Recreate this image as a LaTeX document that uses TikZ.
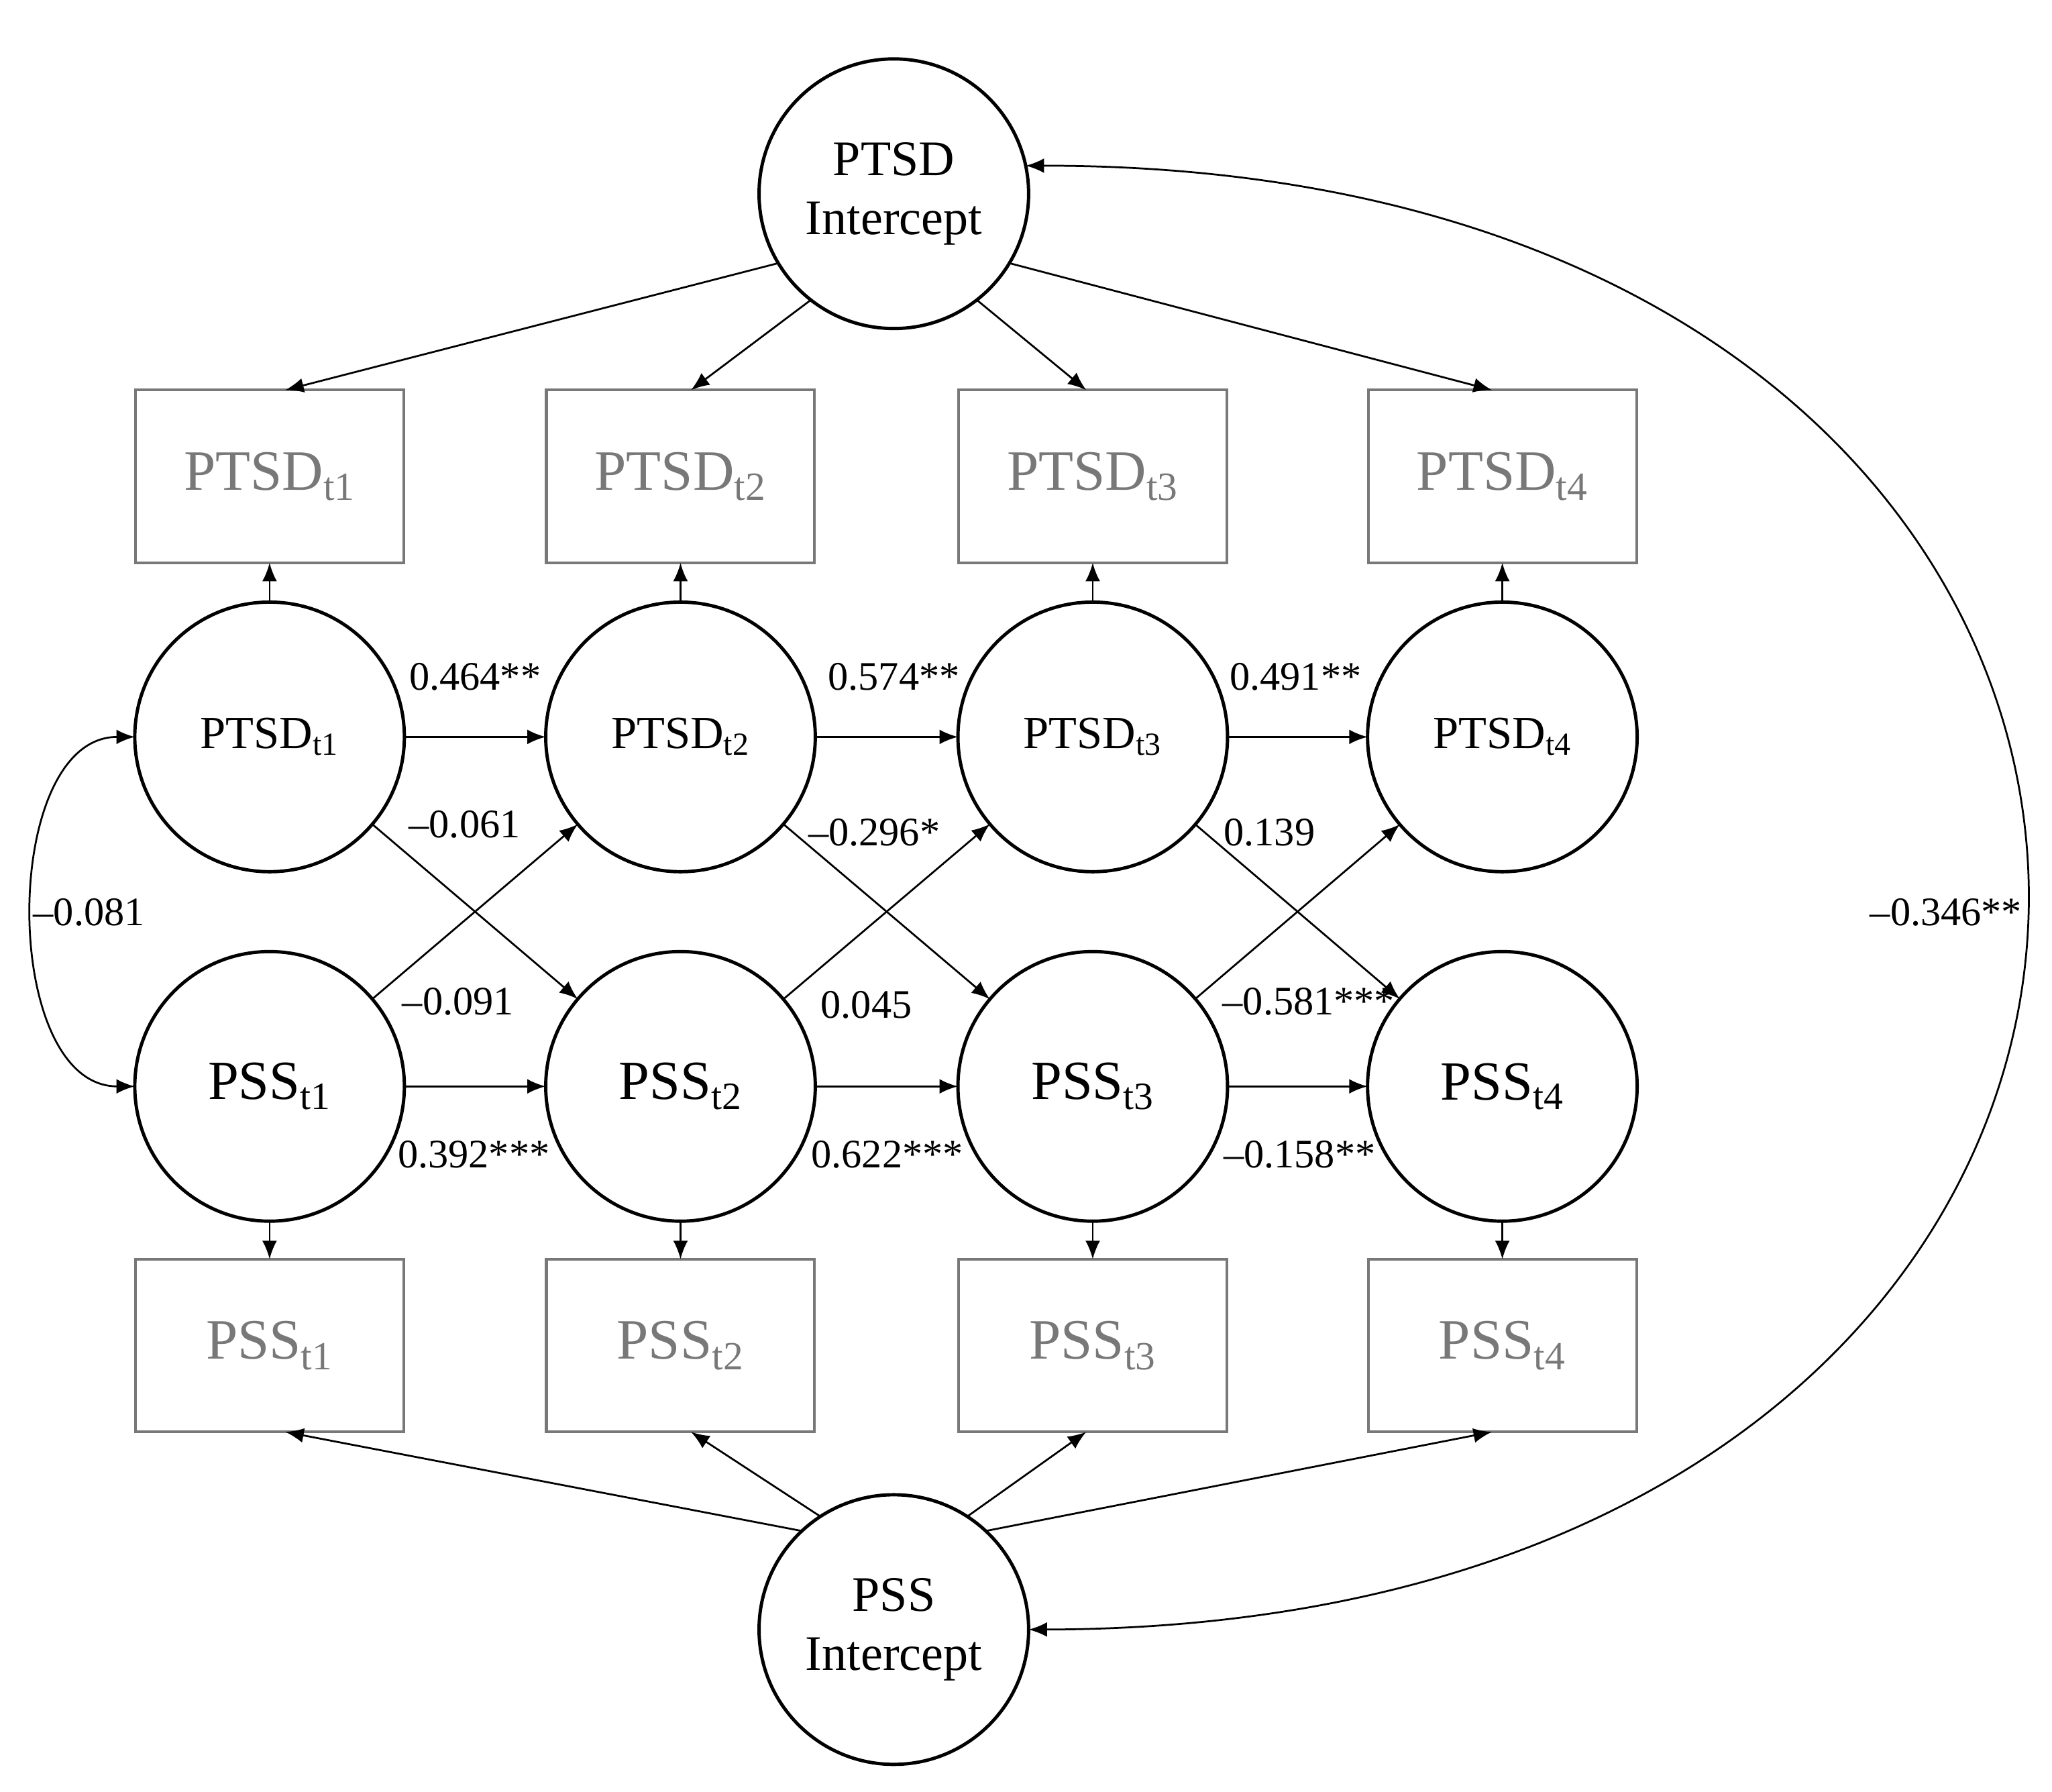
\documentclass[tikz,border=0pt]{standalone}
\usepackage{fontspec}
\setmainfont{Liberation Serif}
\usetikzlibrary{arrows.meta}
\definecolor{boxgray}{RGB}{120,120,120}
\begin{document}
\begin{tikzpicture}[x=0.025cm, y=-0.025cm]
\tikzset{ >={Latex[length=10pt,width=8pt]}, inner sep=0pt, outer sep=0pt,
  lat/.style={draw, circle, line width=1.8pt, minimum size=206*0.025cm, align=center},
  obs/.style={draw=boxgray, text=boxgray, line width=1.5pt, minimum width=205*0.025cm,
              minimum height=132*0.025cm, font=\fontsize{31}{31}\selectfont},
  path/.style={->, line width=1pt},
  coef/.style={font=\fontsize{22}{22}\selectfont},
}
\useasboundingbox (0,0) rectangle (1568,1369);

% intercepts
\node [lat, font=\fontsize{27}{32}\selectfont] (TI) at (683,148) {PTSD\\Intercept};
\node [lat, font=\fontsize{27}{32}\selectfont] (SI) at (683,1245) {PSS\\Intercept};

% latent and observed per wave
\foreach \i/\x/\a/\b/\dx in {1/206/-149/133/12,2/520/-128/123/8,3/835/-52/57/-5,4/1148/-31/47/-8} {
  \node [obs] (BT\i) at (\x,364)  {PTSD\textsubscript{t\i}};
  \node [lat, font=\fontsize{25}{25}\selectfont] (T\i) at (\x,563) {PTSD\textsubscript{t\i}};
  \node [lat, font=\fontsize{30}{30}\selectfont] (S\i) at (\x,830) {PSS\textsubscript{t\i}};
  \node [obs] (BS\i) at (\x,1028) {PSS\textsubscript{t\i}};
  \draw [path] (TI.\a) -- ([xshift=\dx*0.025cm]BT\i.north);
  \draw [path] (SI.\b) -- ([xshift=\dx*0.025cm]BS\i.south);
  \draw [path] (T\i) -- (BT\i);
  \draw [path] (S\i) -- (BS\i);
}

% autoregressive and cross-lagged paths
\foreach \i/\j in {1/2,2/3,3/4} {
  \draw [path] (T\i) -- (T\j);
  \draw [path] (S\i) -- (S\j);
  \draw [path] (T\i) -- (S\j);
  \draw [path] (S\i) -- (T\j);
}

% covariances
\draw [<->, line width=1pt] (T1.west) .. controls (0,563) and (0,830) .. (S1.west);
\draw [<->, line width=1pt] (TI.12) .. controls (1801,126) and (1801,1243) .. (SI.east);

\node [coef] at (68,697) {–0.081};
\node [coef, fill=white, inner sep=2pt] at (1487,697) {–0.346**};

\node [coef] at (363,517) {0.464**};
\node [coef] at (683,517) {0.574**};
\node [coef] at (990,517) {0.491**};
\node [coef] at (355,630) {–0.061};
\node [coef] at (668,636) {–0.296*};
\node [coef] at (970,636) {0.139};
\node [coef] at (350,765) {–0.091};
\node [coef] at (662,768) {0.045};
\node [coef] at (1000,765) {–0.581***};
\node [coef] at (362,882) {0.392***};
\node [coef] at (678,882) {0.622***};
\node [coef] at (993,882) {–0.158**};

\end{tikzpicture}
\end{document}
